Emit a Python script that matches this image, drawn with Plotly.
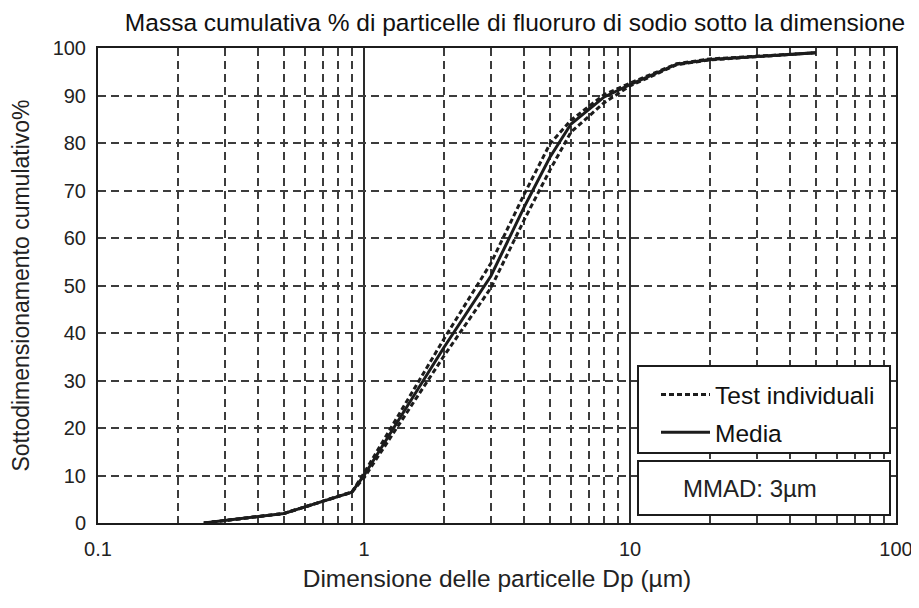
import plotly.graph_objects as go

# Particle size (µm)
sizes = [0.25, 0.5, 0.9, 1, 2, 3, 4, 5, 6, 8, 10, 15, 20, 50]
# Cumulative % undersize
media = [0, 2, 6.5, 10, 37, 52, 66.5, 77, 84, 89.7, 92.3, 96.6, 97.6, 99]
test_upper = [0, 2, 6.5, 10.5, 38.8, 54.7, 69.2, 79.8, 84.8, 90.2, 92.6, 96.7, 97.7, 99]
test_lower = [0, 2, 6.5, 9.5, 35.2, 49.5, 63.8, 74.3, 82.3, 88.5, 92.0, 96.5, 97.5, 99]

title = "Massa cumulativa % di particelle di fluoruro di sodio sotto la dimensione"
x_title = "Dimensione delle particelle Dp (µm)"
y_title = "Sottodimensionamento cumulativo%"
mmad_text = "MMAD: 3µm"

FONT = "Liberation Sans, Arial, sans-serif"
INK = "#1c1c1c"
GRID = "#3c3c3c"

# the page body adds an 8px margin, so the figure is 8px smaller than the window
W, H = 911, 600
L, R, T, B = 90, 23, 40, 85
PW, PH = W - L - R, H - T - B


def px(xp):  # page x -> paper x
    return (xp - 8 - L) / PW


def py(yp):  # page y -> paper y
    return (H - B - (yp - 8)) / PH


fig = go.Figure()
fig.add_trace(go.Scatter(
    x=sizes, y=test_upper, mode="lines", name="Test individuali",
    line=dict(color=INK, width=3, dash="5px,3px"), legendgroup="a"))
fig.add_trace(go.Scatter(
    x=sizes, y=test_lower, mode="lines", name="Test individuali", showlegend=False,
    line=dict(color=INK, width=3, dash="5px,3px"), legendgroup="a"))
fig.add_trace(go.Scatter(
    x=sizes, y=media, mode="lines", name="Media",
    line=dict(color=INK, width=3), legendgroup="b"))

fig.update_layout(
    width=W, height=H,
    margin=dict(l=L, r=R, t=T, b=B, autoexpand=False),
    paper_bgcolor="white", plot_bgcolor="white",
    font=dict(family=FONT, color="#222", size=20),
    title=dict(text=title, x=(515 - 8) / W, xref="container", xanchor="center",
               y=1 - (22 - 8) / H, yref="container", yanchor="middle",
               font=dict(size=24.5, color="#111")),
    showlegend=True,
    legend=dict(x=px(656), xanchor="left", y=py(372), yanchor="top",
                bgcolor="rgba(0,0,0,0)", borderwidth=0,
                font=dict(size=24.5, color="#111"), tracegroupgap=3,
                traceorder="grouped", itemwidth=49),
    shapes=[
        dict(type="rect", xref="paper", yref="paper", layer="above",
             x0=px(638), x1=px(890), y0=py(453), y1=py(366),
             line=dict(color=INK, width=2), fillcolor="white"),
        dict(type="rect", xref="paper", yref="paper", layer="above",
             x0=px(638), x1=px(890), y0=py(515), y1=py(461),
             line=dict(color=INK, width=2), fillcolor="white"),
    ],
    annotations=[dict(text=mmad_text, xref="paper", yref="paper",
                      x=px(750), y=py(488),
                      xanchor="center", yanchor="middle", showarrow=False,
                      font=dict(size=24, color="#222"))],
)

fig.update_xaxes(
    type="log", range=[-1, 2], dtick=1, automargin=False,
    showline=True, mirror=True, linecolor=INK, linewidth=2,
    showgrid=True, gridcolor="#2a2a2a", gridwidth=1.6, griddash="solid",
    ticks="", ticklabelstandoff=7,
    minor=dict(dtick="D1", showgrid=True, gridcolor=GRID, gridwidth=1.5,
               griddash="8px,5px", ticks=""),
    title=dict(text=x_title, font=dict(size=24.5), standoff=11),
    zeroline=False,
)
fig.update_yaxes(
    range=[0, 100], dtick=10, automargin=False,
    showline=True, mirror=True, linecolor=INK, linewidth=2,
    showgrid=True, gridcolor=GRID, gridwidth=1.5, griddash="8px,5px",
    ticks="", ticklabelstandoff=6,
    title=dict(text=y_title, font=dict(size=23), standoff=24),
    zeroline=False,
)

fig.write_html("out.html")
